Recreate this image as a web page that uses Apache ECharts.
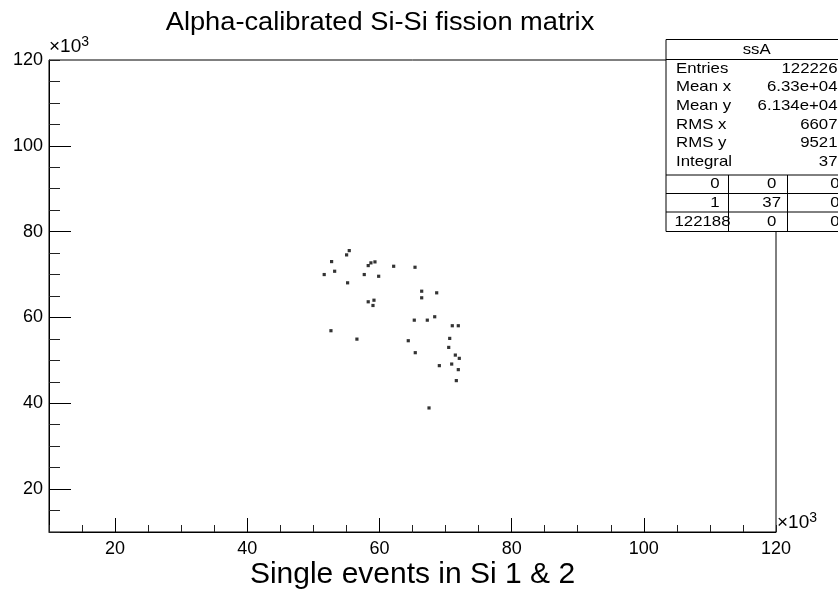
<!DOCTYPE html>
<html>
<head>
<meta charset="utf-8">
<script src="https://cdn.jsdelivr.net/npm/echarts@6/dist/echarts.min.js"></script>
<style>html,body{margin:0;padding:0;background:#fff;}#c{width:838px;height:592px;}</style>
</head>
<body>
<div id="c"></div>
<script>
// Data in units of 10^3
const xValues = [55.43,55.03,52.76,53.22,51.64,55.18,58.71,59.32,58.30,57.70,59.88,62.15,65.38,66.39,66.39,68.66,58.30,59.17,59.02,65.27,67.24,68.36,71.02,71.93,52.66,56.59,64.36,70.63,65.42,70.48,71.48,72.08,69.06,70.93,71.93,71.63,67.50];
const yValues = [75.58,74.58,73.02,70.77,70.00,68.07,72.72,72.95,72.09,70.00,69.60,71.93,71.70,66.12,64.58,65.74,63.65,64.02,62.79,59.37,59.37,60.16,58.07,58.07,56.91,54.95,54.58,55.12,51.79,53.02,51.23,50.47,48.77,49.14,47.84,45.28,38.91];
const majorTicks = [20,40,60,80,100];
const labelTicks = [20,40,60,80,100,120];
const statLabels = ['Entries','Mean x','Mean y','RMS x','RMS y','Integral'];
const statValues = ['122226','6.33e+04','6.134e+04','6607','9521','37'];
const tableRows = [['0','0','0'],['1','37','0'],['122188','0','0']];
const titleText = 'Alpha-calibrated Si-Si fission matrix';
const xTitle = 'Single events in Si 1 & 2';
const histName = 'ssA';

const FONT = '"Liberation Sans", Arial, Helvetica, sans-serif';
const points = xValues.map((x,i)=>[x, yValues[i]]);

function txt(x, y, text, size, align, sx) {
  return {type:'text', x:x, y:y, scaleX: sx||1, z:200,
    style:{text:text, font: size+'px '+FONT, textAlign:align, textVerticalAlign:'middle', fill:'#000'}};
}
const g = [];
// stats box
const bx = 666, by = 39.5, bw = 185, bh = 192;
g.push({type:'rect', z:150, shape:{x:bx, y:by, width:bw, height:bh}, style:{fill:'#fff', stroke:'#000', lineWidth:1}});
[59.5,175,193.5,212].forEach(yy=>g.push({type:'line', z:160, shape:{x1:bx,y1:yy,x2:bx+bw,y2:yy}, style:{stroke:'#000',lineWidth:1}}));
[728.5,787.5].forEach(xx=>g.push({type:'line', z:160, shape:{x1:xx,y1:175,x2:xx,y2:by+bh}, style:{stroke:'#000',lineWidth:1}}));
g.push(txt(756.7, 50, histName, 15, 'center', 1.12));
statLabels.forEach((l,i)=>{
  const yy = 68.5 + i*18.65;
  g.push(txt(676, yy, l, 15, 'left', 1.12));
  g.push(txt(837.5, yy, statValues[i], 15, 'right', 1.12));
});
const rowY = [184, 202.5, 221.7];
tableRows.forEach((r,i)=>{
  g.push(txt(r[0].length>2 ? 702.5 : 715, rowY[i], r[0], 15, 'center', 1.12));
  g.push(txt(771.7, rowY[i], r[1], 15, 'center', 1.12));
  g.push(txt(835, rowY[i], r[2], 15, 'center', 1.12));
});
// titles
g.push(txt(380, 23.5, titleText, 25, 'center', 1.09));
g.push(txt(412.5, 575, xTitle, 30, 'center', 1));
// exponent labels
function expo(x, y) {
  return {type:'text', x:x, y:y, z:200, style:{text:'{a|×10}{b|3}', textAlign:'left', textVerticalAlign:'bottom',
    rich:{a:{font:'19px '+FONT, fill:'#000'}, b:{font:'14px '+FONT, fill:'#000', verticalAlign:'top', padding:[0,0,10,0]}}}};
}
g.push(expo(49, 59));
g.push(expo(777, 535));

const axisCommon = {type:'value', min:10, max:120, splitLine:{show:false}};
const option = {
  animation:false,
  backgroundColor:'#fff',
  grid:{left:49, top:60, right:62, bottom:60, show:true, borderColor:'#000', borderWidth:1, backgroundColor:'transparent'},
  xAxis:[
    Object.assign({}, axisCommon, {interval:5, position:'bottom',
      axisLine:{show:true, lineStyle:{color:'#000', width:1}},
      axisTick:{show:true, inside:true, length:7, lineStyle:{color:'#222'}},
      axisLabel:{show:true, margin:8, fontSize:18, fontFamily:FONT, color:'#000',
        formatter:v=> (labelTicks.indexOf(Math.round(v))>=0 ? String(Math.round(v)) : '')}}),
    Object.assign({}, axisCommon, {position:'bottom', interval:5,
      axisLine:{show:false}, axisLabel:{show:false},
      axisTick:{show:true, inside:true, length:14, customValues:majorTicks, lineStyle:{color:'#000'}}})
  ],
  yAxis:[
    Object.assign({}, axisCommon, {interval:5, position:'left',
      axisLine:{show:true, lineStyle:{color:'#000', width:1}},
      axisTick:{show:true, inside:true, length:11, lineStyle:{color:'#222'}},
      axisLabel:{show:true, margin:6, fontSize:18, fontFamily:FONT, color:'#000',
        formatter:v=> (labelTicks.indexOf(Math.round(v))>=0 ? String(Math.round(v)) : '')}}),
    Object.assign({}, axisCommon, {position:'left', interval:5,
      axisLine:{show:false}, axisLabel:{show:false},
      axisTick:{show:true, inside:true, length:22, customValues:majorTicks, lineStyle:{color:'#000'}}})
  ],
  series:[{type:'scatter', xAxisIndex:0, yAxisIndex:0, data:points, symbol:'rect', symbolSize:3.2,
    itemStyle:{color:'#000'}, silent:true}],
  graphic:g
};
const chart = echarts.init(document.getElementById('c'), null, {renderer:'canvas'});
chart.setOption(option);
</script>
</body>
</html>
